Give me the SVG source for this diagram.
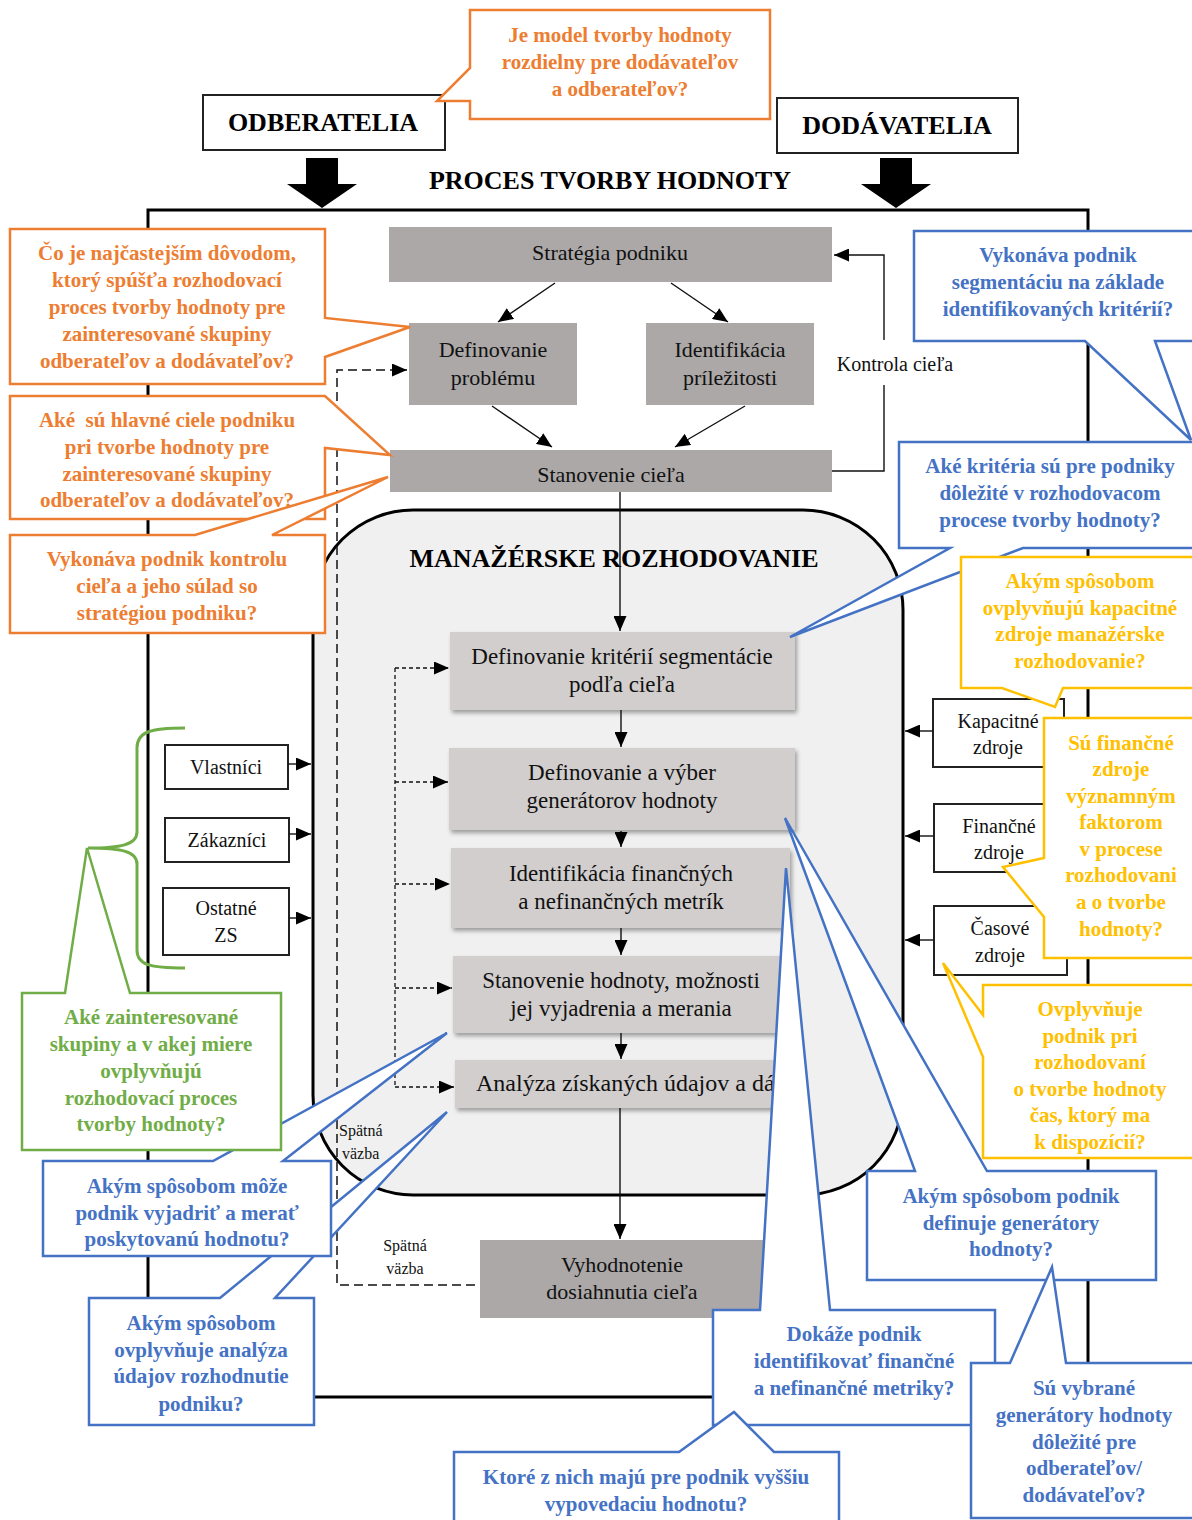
<svg xmlns="http://www.w3.org/2000/svg" width="1192" height="1520" viewBox="0 0 1192 1520">
  <style>
    .lbl { font-family: "Liberation Serif", "Times New Roman", serif; font-size: 22px; fill: #111; text-anchor: middle; }
    .lbl2 { font-family: "Liberation Serif", "Times New Roman", serif; font-size: 23px; fill: #111; text-anchor: middle; }
    .sm { font-family: "Liberation Serif", "Times New Roman", serif; font-size: 20px; fill: #111; text-anchor: middle; }
    .xs { font-family: "Liberation Serif", "Times New Roman", serif; font-size: 16px; fill: #111; }
    .ttl { font-family: "Liberation Serif", "Times New Roman", serif; font-size: 26px; font-weight: bold; fill: #000; text-anchor: middle; }
    .q { font-family: "Liberation Serif", "Times New Roman", serif; font-size: 21px; font-weight: bold; text-anchor: middle; }
    .qo { fill: #ed7d31; }
    .qb { fill: #4472c4; }
    .qy { fill: #ffc000; }
    .qg { fill: #70ad47; }
    .co { fill: #fff; stroke-width: 2.5; stroke-linejoin: miter; }
    .cor { stroke: #ed7d31; }
    .cob { stroke: #4472c4; }
    .coy { stroke: #ffc000; }
    .cog { stroke: #70ad47; }
    .dark { fill: #aba8a7; }
    .light { fill: #d1cecd; }
    .wbox { fill: #fff; stroke: #222; stroke-width: 2; }
    .ln { fill: none; stroke: #111; stroke-width: 1.4; }
    .dash { fill: none; stroke: #111; stroke-width: 1.5; stroke-dasharray: 9 5; }
    .dot { fill: none; stroke: #111; stroke-width: 1.3; stroke-dasharray: 4 3; }
  </style>
  <defs>
    <marker id="ah" markerUnits="userSpaceOnUse" markerWidth="15" markerHeight="13" refX="15" refY="6.5" orient="auto">
      <path d="M0,0 L15,6.5 L0,13 Z" fill="#000"/>
    </marker>
    <filter id="shadow" x="-5%" y="-10%" width="115%" height="135%">
      <feDropShadow dx="2" dy="3" stdDeviation="2" flood-color="#000" flood-opacity="0.35"/>
    </filter>
  </defs>

  <rect width="1192" height="1520" fill="#fff"/>

  <!-- outer process frame -->
  <rect id="frame" x="148" y="210" width="940" height="1187" fill="none" stroke="#000" stroke-width="3"/>

  <!-- header -->
  <g id="odberatelia">
    <rect class="wbox" x="203" y="95" width="242" height="55"/>
    <text class="ttl" x="323" y="131">ODBERATELIA</text>
  </g>
  <g id="dodavatelia">
    <rect class="wbox" x="777" y="98" width="241" height="55"/>
    <text class="ttl" x="897" y="134">DODÁVATELIA</text>
  </g>
  <g id="block-arrows" fill="#000">
    <polygon points="306,158 338,158 338,184 357,184 322,208 287,184 306,184"/>
    <polygon points="880,158 912,158 912,184 931,184 896,208 861,184 880,184"/>
  </g>
  <text class="ttl" x="610" y="189">PROCES TVORBY HODNOTY</text>

  <!-- managerial decision area -->
  <g id="manazerske-rozhodovanie">
    <rect x="313" y="510" width="590" height="685" rx="100" ry="100" fill="#f0f0f0" stroke="#000" stroke-width="3"/>
    <text class="ttl" x="614" y="567">MANAŽÉRSKE ROZHODOVANIE</text>
  </g>

  <!-- strategic nodes -->
  <g id="strategia">
    <rect class="dark" x="389" y="227" width="443" height="55"/>
    <text class="lbl" x="610" y="260">Stratégia podniku</text>
  </g>
  <g id="definovanie-problemu">
    <rect class="dark" x="409" y="323" width="168" height="82"/>
    <text class="lbl" x="493" y="357">Definovanie</text>
    <text class="lbl" x="493" y="385">problému</text>
  </g>
  <g id="identifikacia-prilezitosti">
    <rect class="dark" x="646" y="323" width="168" height="82"/>
    <text class="lbl" x="730" y="357">Identifikácia</text>
    <text class="lbl" x="730" y="385">príležitosti</text>
  </g>
  <g id="stanovenie-ciela">
    <rect class="dark" x="390" y="450" width="442" height="42"/>
    <text class="lbl" x="611" y="482">Stanovenie cieľa</text>
  </g>

  <!-- decision steps -->
  <g id="krok-kriteria">
    <rect class="light" filter="url(#shadow)" x="450" y="632" width="345" height="78"/>
    <text class="lbl2" x="622" y="664">Definovanie kritérií segmentácie</text>
    <text class="lbl2" x="622" y="692">podľa cieľa</text>
  </g>
  <g id="krok-generatory">
    <rect class="light" filter="url(#shadow)" x="449" y="748" width="346" height="82"/>
    <text class="lbl2" x="622" y="780">Definovanie a výber</text>
    <text class="lbl2" x="622" y="808">generátorov hodnoty</text>
  </g>
  <g id="krok-metriky">
    <rect class="light" filter="url(#shadow)" x="451" y="848" width="339" height="80"/>
    <text class="lbl2" x="621" y="881">Identifikácia finančných</text>
    <text class="lbl2" x="621" y="909">a nefinančných metrík</text>
  </g>
  <g id="krok-hodnota">
    <rect class="light" filter="url(#shadow)" x="453" y="956" width="332" height="77"/>
    <text class="lbl2" x="621" y="988">Stanovenie hodnoty, možnosti</text>
    <text class="lbl2" x="621" y="1016">jej vyjadrenia a merania</text>
  </g>
  <g id="krok-analyza">
    <rect class="light" filter="url(#shadow)" x="455" y="1060" width="340" height="48"/>
    <text class="lbl2" x="476" y="1091" style="text-anchor:start;font-size:24px">Analýza získaných údajov a dát</text>
  </g>
  <g id="vyhodnotenie">
    <rect class="dark" x="480" y="1240" width="285" height="78"/>
    <text class="lbl" x="622" y="1272">Vyhodnotenie</text>
    <text class="lbl" x="622" y="1299">dosiahnutia cieľa</text>
  </g>

  <!-- stakeholders -->
  <g id="vlastnici">
    <rect class="wbox" x="165" y="745" width="123" height="44"/>
    <text class="sm" x="226" y="774">Vlastníci</text>
  </g>
  <g id="zakaznici">
    <rect class="wbox" x="165" y="818" width="124" height="44"/>
    <text class="sm" x="227" y="847">Zákazníci</text>
  </g>
  <g id="ostatne-zs">
    <rect class="wbox" x="163" y="888" width="126" height="67"/>
    <text class="sm" x="226" y="915">Ostatné</text>
    <text class="sm" x="226" y="942">ZS</text>
  </g>

  <!-- resources -->
  <g id="kapacitne-zdroje">
    <rect class="wbox" x="933" y="699" width="131" height="68"/>
    <text class="sm" x="998" y="728">Kapacitné</text>
    <text class="sm" x="998" y="754">zdroje</text>
  </g>
  <g id="financne-zdroje">
    <rect class="wbox" x="934" y="804" width="132" height="68"/>
    <text class="sm" x="999" y="833">Finančné</text>
    <text class="sm" x="999" y="859">zdroje</text>
  </g>
  <g id="casove-zdroje">
    <rect class="wbox" x="934" y="906" width="133" height="69"/>
    <text class="sm" x="1000" y="935">Časové</text>
    <text class="sm" x="1000" y="962">zdroje</text>
  </g>

  <!-- connectors -->
  <g id="connectors">
    <path class="ln" d="M555,283 L498,322" marker-end="url(#ah)"/>
    <path class="ln" d="M671,283 L728,322" marker-end="url(#ah)"/>
    <path class="ln" d="M492,406 L552,447" marker-end="url(#ah)"/>
    <path class="ln" d="M745,406 L675,447" marker-end="url(#ah)"/>
    <path class="ln" d="M832,471 H884 V385"/>
    <path class="ln" d="M884,340 V255 H834" marker-end="url(#ah)"/>
    <path class="ln" d="M620,492 V631" marker-end="url(#ah)"/>
    <path class="ln" d="M621,710 V747" marker-end="url(#ah)"/>
    <path class="ln" d="M621,831 V847" marker-end="url(#ah)"/>
    <path class="ln" d="M621,928 V955" marker-end="url(#ah)"/>
    <path class="ln" d="M621,1033 V1059" marker-end="url(#ah)"/>
    <path class="ln" d="M620,1108 V1239" marker-end="url(#ah)"/>
    <path class="dash" d="M475,1285 H337 V370 H407" marker-end="url(#ah)"/>
    <path class="dot" d="M395,668 V1087"/>
    <path class="dot" d="M395,668 H449" marker-end="url(#ah)"/>
    <path class="dot" d="M395,782 H448" marker-end="url(#ah)"/>
    <path class="dot" d="M395,884 H450" marker-end="url(#ah)"/>
    <path class="dot" d="M395,988 H452" marker-end="url(#ah)"/>
    <path class="dot" d="M395,1087 H454" marker-end="url(#ah)"/>
    <path class="ln" d="M288,764 H311" marker-end="url(#ah)"/>
    <path class="ln" d="M289,834 H311" marker-end="url(#ah)"/>
    <path class="ln" d="M289,918 H311" marker-end="url(#ah)"/>
    <path class="ln" d="M933,731 H905" marker-end="url(#ah)"/>
    <path class="ln" d="M934,836 H905" marker-end="url(#ah)"/>
    <path class="ln" d="M934,940 H905" marker-end="url(#ah)"/>
  </g>

  <!-- connector labels -->
  <text class="sm" x="895" y="371">Kontrola cieľa</text>
  <text class="xs" x="339" y="1136">Spätná</text>
  <text class="xs" x="342" y="1159">väzba</text>
  <text class="xs" x="405" y="1251" text-anchor="middle">Spätná</text>
  <text class="xs" x="405" y="1274" text-anchor="middle">väzba</text>

  <!-- stakeholder brace -->
  <path id="brace" d="M185,728 C150,728 137,732 137,748 L137,832 C137,845 120,848 88,848 C120,848 137,851 137,864 L137,950 C137,965 150,968 185,968" fill="none" stroke="#70ad47" stroke-width="3"/>

  <!-- question callouts -->
  <g id="q-model">
    <path class="co cor" d="M470,10 H770 V119 H470 V101 L437,101 L470,68 Z"/>
    <text class="q qo" x="620" y="42">Je model tvorby hodnoty</text>
    <text class="q qo" x="620" y="69">rozdielny pre dodávateľov</text>
    <text class="q qo" x="620" y="96">a odberateľov?</text>
  </g>
  <g id="q-dovod">
    <path class="co cor" d="M10,229 H325 V318 L410,327 L325,357 V384 H10 Z"/>
    <text class="q qo" x="167" y="260">Čo je najčastejším dôvodom,</text>
    <text class="q qo" x="167" y="287">ktorý spúšťa rozhodovací</text>
    <text class="q qo" x="167" y="314">proces tvorby hodnoty pre</text>
    <text class="q qo" x="167" y="341">zainteresované skupiny</text>
    <text class="q qo" x="167" y="368">odberateľov a dodávateľov?</text>
  </g>
  <g id="q-ciele">
    <path class="co cor" d="M10,396 H325 L390,455 L325,448 V519 H10 Z"/>
  </g>
  <g id="q-kontrola">
    <path class="co cor" d="M10,535 H195 L388,477 L272,535 H325 V633 H10 Z"/>
    <text class="q qo" x="167" y="566">Vykonáva podnik kontrolu</text>
    <text class="q qo" x="167" y="593">cieľa a jeho súlad so</text>
    <text class="q qo" x="167" y="620">stratégiou podniku?</text>
  </g>
  <g id="q-ciele-text">
    <text class="q qo" x="167" y="427" xml:space="preserve">Aké  sú hlavné ciele podniku</text>
    <text class="q qo" x="167" y="454">pri tvorbe hodnoty pre</text>
    <text class="q qo" x="167" y="481">zainteresované skupiny</text>
    <text class="q qo" x="167" y="507">odberateľov a dodávateľov?</text>
  </g>

  <g id="q-segmentacia">
    <path class="co cob" d="M914,231 H1196 V341 H1155 L1191,440 L1085,341 H914 Z"/>
    <text class="q qb" x="1058" y="262">Vykonáva podnik</text>
    <text class="q qb" x="1058" y="289">segmentáciu na základe</text>
    <text class="q qb" x="1058" y="316">identifikovaných kritérií?</text>
  </g>
  <g id="q-kriteria">
    <path class="co cob" d="M899,442 H1196 V548 H1023 L790,637 L950,548 H899 Z"/>
    <text class="q qb" x="1050" y="473">Aké kritéria sú pre podniky</text>
    <text class="q qb" x="1050" y="500">dôležité v rozhodovacom</text>
    <text class="q qb" x="1050" y="527">procese tvorby hodnoty?</text>
  </g>

  <g id="q-kapacitne">
    <path class="co coy" d="M961,557 H1196 V688 H1063 L1055,707 L1002,688 H961 Z"/>
    <text class="q qy" x="1080" y="588">Akým spôsobom</text>
    <text class="q qy" x="1080" y="615">ovplyvňujú kapacitné</text>
    <text class="q qy" x="1080" y="641">zdroje manažérske</text>
    <text class="q qy" x="1080" y="668">rozhodovanie?</text>
  </g>
  <g id="q-financne">
    <path class="co coy" d="M1044,718 H1196 V958 H1044 V917 L1003,867 L1044,858 Z"/>
    <text class="q qy" x="1121" y="750">Sú finančné</text>
    <text class="q qy" x="1121" y="776">zdroje</text>
    <text class="q qy" x="1121" y="803">významným</text>
    <text class="q qy" x="1121" y="829">faktorom</text>
    <text class="q qy" x="1121" y="856">v procese</text>
    <text class="q qy" x="1121" y="882">rozhodovani</text>
    <text class="q qy" x="1121" y="909">a o tvorbe</text>
    <text class="q qy" x="1121" y="936">hodnoty?</text>
  </g>
  <g id="q-cas">
    <path class="co coy" d="M983,985 H1196 V1158 H983 V1057 L943,963 L983,1015 Z"/>
    <text class="q qy" x="1090" y="1016">Ovplyvňuje</text>
    <text class="q qy" x="1090" y="1043">podnik pri</text>
    <text class="q qy" x="1090" y="1069">rozhodovaní</text>
    <text class="q qy" x="1090" y="1096">o tvorbe hodnoty</text>
    <text class="q qy" x="1090" y="1122">čas, ktorý ma</text>
    <text class="q qy" x="1090" y="1149">k dispozícií?</text>
  </g>

  <g id="q-generatory">
    <path class="co cob" d="M867,1171 H915 L785,818 L987,1171 H1156 V1280 H867 Z"/>
    <text class="q qb" x="1011" y="1203">Akým spôsobom podnik</text>
    <text class="q qb" x="1011" y="1230">definuje generátory</text>
    <text class="q qb" x="1011" y="1256">hodnoty?</text>
  </g>
  <g id="q-metriky">
    <path class="co cob" d="M713,1310 H760 L786,868 L830,1310 H995 V1425 H713 Z"/>
    <text class="q qb" x="854" y="1341">Dokáže podnik</text>
    <text class="q qb" x="854" y="1368">identifikovať finančné</text>
    <text class="q qb" x="854" y="1395">a nefinančné metriky?</text>
  </g>
  <g id="q-vypovedacia">
    <path class="co cob" d="M454,1452 H679 L734,1412 L774,1452 H839 V1524 H454 Z"/>
    <text class="q qb" x="646" y="1484">Ktoré z nich majú pre podnik vyššiu</text>
    <text class="q qb" x="646" y="1511">vypovedaciu hodnotu?</text>
  </g>
  <g id="q-vybrane">
    <path class="co cob" d="M971,1363 H1010 L1052,1267 L1066,1363 H1196 V1518 H971 Z"/>
    <text class="q qb" x="1084" y="1395">Sú vybrané</text>
    <text class="q qb" x="1084" y="1422">generátory hodnoty</text>
    <text class="q qb" x="1084" y="1449">dôležité pre</text>
    <text class="q qb" x="1084" y="1475">odberateľov/</text>
    <text class="q qb" x="1084" y="1502">dodávateľov?</text>
  </g>

  <g id="q-analyza">
    <path class="co cob" d="M89,1298 H220 L447,1112 L275,1298 H314 V1425 H89 Z"/>
    <text class="q qb" x="201" y="1330">Akým spôsobom</text>
    <text class="q qb" x="201" y="1357">ovplyvňuje analýza</text>
    <text class="q qb" x="201" y="1383">údajov rozhodnutie</text>
    <text class="q qb" x="201" y="1411">podniku?</text>
  </g>
  <g id="q-vyjadrit">
    <path class="co cob" d="M43,1161 H213 L447,1033 L283,1161 H331 V1256 H43 Z"/>
    <text class="q qb" x="187" y="1193">Akým spôsobom môže</text>
    <text class="q qb" x="187" y="1220">podnik vyjadriť a merať</text>
    <text class="q qb" x="187" y="1246">poskytovanú hodnotu?</text>
  </g>
  <g id="q-zainteresovane">
    <path class="co cog" d="M22,993 H65 L87,848 L130,993 H281 V1150 H22 Z"/>
    <text class="q qg" x="151" y="1024">Aké zainteresované</text>
    <text class="q qg" x="151" y="1051">skupiny a v akej miere</text>
    <text class="q qg" x="151" y="1078">ovplyvňujú</text>
    <text class="q qg" x="151" y="1105">rozhodovací proces</text>
    <text class="q qg" x="151" y="1131">tvorby hodnoty?</text>
  </g>
</svg>
